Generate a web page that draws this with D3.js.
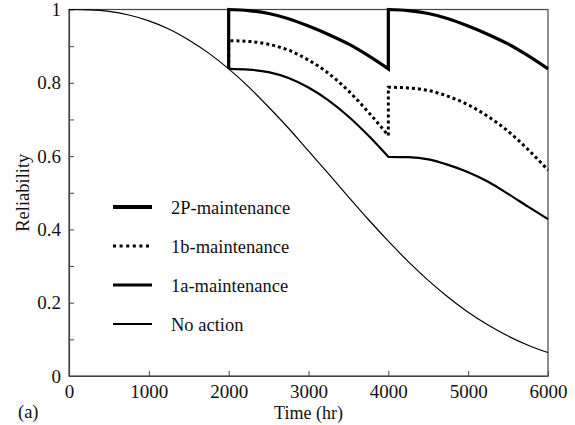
<!DOCTYPE html>
<html>
<head>
<meta charset="utf-8">
<script src="https://cdn.jsdelivr.net/npm/d3@7"></script>
<style>
  body { margin: 0; background: #fff; }
  svg { display: block; }
  svg text { font-family: "Liberation Serif", "Times New Roman", Times, "DejaVu Serif", serif !important; fill: #111; }
</style>
</head>
<body>
<svg id="chart"></svg>
<script>
// values
const tNoAction = [0, 250, 500, 750, 1000, 1250, 1500, 1750, 2000, 2250, 2500, 2750, 3000,
  3250, 3500, 3750, 4000, 4250, 4500, 4750, 5000, 5250, 5500, 5750, 6000];
const noAction = [1.0, 0.999, 0.995, 0.985, 0.969, 0.947, 0.917, 0.881, 0.838, 0.789, 0.734, 0.676, 0.614,
  0.552, 0.489, 0.427, 0.368, 0.312, 0.261, 0.215, 0.174, 0.139, 0.109, 0.084, 0.064];

const tCycle1 = [2000, 2250, 2500, 2750, 3000, 3250, 3500, 3750, 4000];
const tCycle2 = [4000, 4250, 4500, 4750, 5000, 5250, 5500, 5750, 6000];

const pm2P1 = [1.0, 0.997, 0.989, 0.975, 0.955, 0.932, 0.906, 0.874, 0.838];
const pm2P2 = [1.0, 0.997, 0.989, 0.975, 0.955, 0.932, 0.906, 0.874, 0.838];
const pm1b1 = [0.915, 0.913, 0.905, 0.889, 0.862, 0.826, 0.778, 0.720, 0.656];
const pm1b2 = [0.788, 0.786, 0.779, 0.763, 0.740, 0.708, 0.668, 0.618, 0.562];
const pm1a1 = [0.838, 0.836, 0.829, 0.813, 0.787, 0.752, 0.708, 0.656, 0.598];
const pm1a2 = [0.598, 0.597, 0.591, 0.576, 0.556, 0.530, 0.497, 0.462, 0.428];

const xTicks = [0, 1000, 2000, 3000, 4000, 5000, 6000];
const yTicks = [0, 0.1, 0.2, 0.3, 0.4, 0.5, 0.6, 0.7, 0.8, 0.9, 1];
const legendLabels = ["2P-maintenance", "1b-maintenance", "1a-maintenance", "No action"];

const width = 575;
const height = 425;
const margin = { top: 9.5, right: 27, bottom: 49, left: 69 };
const serif = '"Liberation Serif", "Times New Roman", Times, "DejaVu Serif", serif';

const svg = d3.select("#chart").attr("width", width).attr("height", height);

const x = d3.scaleLinear().domain([0, 6000]).range([margin.left, width - margin.right]);
const y = d3.scaleLinear().domain([0, 1]).range([height - margin.bottom, margin.top]);

const zip = (ts, vs) => ts.map((t, i) => [t, vs[i]]);
const line = d3.line().x((d) => x(d[0])).y((d) => y(d[1])).curve(d3.curveMonotoneX);
const pathFor = (segments) =>
  segments.map((s, i) => (i ? line(s).replace(/^M/, "L") : line(s))).join("");

const r2000 = noAction[tNoAction.indexOf(2000)];

const series = [
  {
    name: legendLabels[0], width: 3.2, dash: null,
    segs: [[[2000, r2000], [2000, pm2P1[0]]], zip(tCycle1, pm2P1),
      [[4000, pm2P1[8]], [4000, pm2P2[0]]], zip(tCycle2, pm2P2)],
  },
  {
    name: legendLabels[1], width: 3, dash: "3,3",
    segs: [[[2000, r2000], [2000, pm1b1[0]]], zip(tCycle1, pm1b1),
      [[4000, pm1b1[8]], [4000, pm1b2[0]]], zip(tCycle2, pm1b2)],
  },
  {
    name: legendLabels[2], width: 2.2, dash: null,
    segs: [zip(tCycle1, pm1a1), zip(tCycle2, pm1a2)],
  },
  {
    name: legendLabels[3], width: 1.2, dash: null,
    segs: [zip(tNoAction, noAction)],
  },
];

// frame
svg.append("rect")
  .attr("x", margin.left).attr("y", margin.top)
  .attr("width", x(6000) - x(0)).attr("height", y(0) - y(1))
  .attr("fill", "none").attr("stroke", "#444").attr("stroke-width", 1.2);

const xAxis = svg.append("g")
  .attr("transform", `translate(0,${y(0)})`)
  .call(d3.axisBottom(x).tickValues(xTicks).tickSizeInner(-5).tickSizeOuter(0).tickPadding(9).tickFormat(d3.format("d")));
const yAxis = svg.append("g")
  .attr("transform", `translate(${x(0)},0)`)
  .call(d3.axisLeft(y).tickValues(yTicks).tickSizeInner(-5).tickSizeOuter(0).tickPadding(8)
    .tickFormat((d) => (Math.round(d * 10) % 2 === 0 ? String(+d.toFixed(1)) : "")));

[xAxis, yAxis].forEach((g) => {
  g.attr("font-family", serif).attr("font-size", 19);
  g.select(".domain").attr("stroke", "#444").attr("stroke-width", 1.2);
  g.selectAll(".tick line").attr("stroke", "#444");
  g.selectAll(".tick text").attr("fill", "#111");
});

svg.selectAll("path.series")
  .data(series)
  .join("path")
  .attr("class", "series")
  .attr("d", (d) => pathFor(d.segs))
  .attr("fill", "none")
  .attr("stroke", "#000")
  .attr("stroke-width", (d) => d.width)
  .attr("stroke-dasharray", (d) => d.dash)
  .attr("stroke-linejoin", "miter");

// legend
const legend = svg.append("g").attr("transform", "translate(113,207)");
const rows = legend.selectAll("g").data(series).join("g")
  .attr("transform", (d, i) => `translate(0,${i * 39})`);
rows.append("line")
  .attr("x1", 0).attr("x2", 39)
  .attr("stroke", "#000")
  .attr("stroke-width", (d) => (d.dash ? 3 : d.width + 0.6))
  .attr("stroke-dasharray", (d) => (d.dash ? "3,3.6" : null));
rows.append("text")
  .attr("x", 58).attr("y", 7)
  .attr("font-family", serif)
  .attr("font-size", 18.5)
  .text((d) => d.name);

// axis titles
svg.append("text")
  .attr("x", (x(0) + x(6000)) / 2).attr("y", 419)
  .attr("text-anchor", "middle").attr("font-family", serif).attr("font-size", 18)
  .text("Time (hr)");
svg.append("text")
  .attr("transform", `translate(29,${(y(0) + y(1)) / 2}) rotate(-90)`)
  .attr("text-anchor", "middle").attr("font-family", serif).attr("font-size", 18.5)
  .text("Reliability");
svg.append("text")
  .attr("x", 18).attr("y", 418)
  .attr("font-family", serif).attr("font-size", 18.5)
  .text("(a)");
</script>
</body>
</html>
